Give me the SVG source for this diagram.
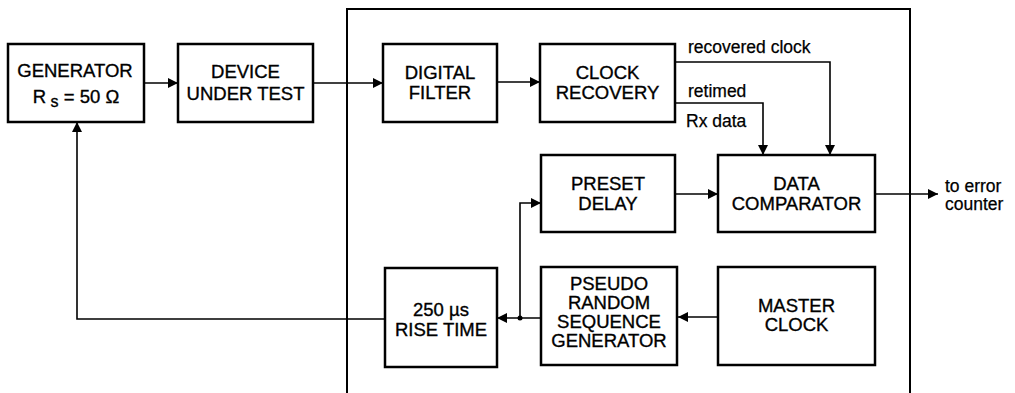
<svg xmlns="http://www.w3.org/2000/svg" width="1015" height="393" viewBox="0 0 1015 393">
<style>
.box{fill:#fff;stroke:#000;stroke-width:2.5}
.t{font-family:"Liberation Sans",Arial,sans-serif;font-size:18.5px;text-anchor:middle;fill:#000;stroke:#000;stroke-width:0.35}
.l{font-family:"Liberation Sans",Arial,sans-serif;font-size:17.5px;fill:#000;stroke:#000;stroke-width:0.25}
.c{fill:none;stroke:#000;stroke-width:1.6}
.frame{fill:none;stroke:#000;stroke-width:2}
</style>
<defs>
<marker id="a" viewBox="0 0 10 10" refX="10" refY="5" markerWidth="10" markerHeight="10" markerUnits="userSpaceOnUse" orient="auto">
<path d="M0,0 L10,5 L0,10 z" fill="#000"/>
</marker>
</defs>
<path class="frame" d="M347,393 V9 H910 V393"/>
<g id="connectors">
<path class="c" d="M144,83 H178" marker-end="url(#a)"/>
<path class="c" d="M313,83 H383" marker-end="url(#a)"/>
<path class="c" d="M497,82 H540" marker-end="url(#a)"/>
<path class="c" d="M675,62 H830 V155" marker-end="url(#a)"/>
<path class="c" d="M675,103 H763 V155" marker-end="url(#a)"/>
<path class="c" d="M675,194 H718" marker-end="url(#a)"/>
<path class="c" d="M875,194 H938" marker-end="url(#a)"/>
<path class="c" d="M718,317 H678" marker-end="url(#a)"/>
<path class="c" d="M541,318 H497" marker-end="url(#a)"/>
<path class="c" d="M520,318 V203 H541" marker-end="url(#a)"/>
<path class="c" d="M385,319 H77 V122" marker-end="url(#a)"/>
<circle cx="520" cy="318" r="2.5" fill="#000"/>
<text class="l" x="688" y="53">recovered clock</text>
<text class="l" x="688" y="97">retimed</text>
<text class="l" x="686" y="127">Rx data</text>
<text class="l" x="945" y="192">to error</text>
<text class="l" x="945" y="210">counter</text>
</g>
<g id="generator">
<rect class="box" x="8" y="44" width="136" height="78"/>
<text class="t" x="75" y="77">GENERATOR</text>
<text class="t" x="76" y="103">R<tspan font-size="16" dy="4"> s</tspan><tspan dy="-4"> = 50 Ω</tspan></text>
</g>
<g id="dut">
<rect class="box" x="178" y="44" width="135" height="78"/>
<text class="t" x="245.5" y="78">DEVICE</text>
<text class="t" x="245.5" y="100">UNDER TEST</text>
</g>
<g id="filter">
<rect class="box" x="383" y="44" width="114" height="78"/>
<text class="t" x="440" y="79">DIGITAL</text>
<text class="t" x="440" y="99">FILTER</text>
</g>
<g id="clockrec">
<rect class="box" x="540" y="44" width="135" height="78"/>
<text class="t" x="607.5" y="79">CLOCK</text>
<text class="t" x="607.5" y="99">RECOVERY</text>
</g>
<g id="preset">
<rect class="box" x="541" y="155" width="134" height="77"/>
<text class="t" x="608" y="190">PRESET</text>
<text class="t" x="608" y="210">DELAY</text>
</g>
<g id="comparator">
<rect class="box" x="718" y="155" width="157" height="77"/>
<text class="t" x="796.5" y="190">DATA</text>
<text class="t" x="796.5" y="210">COMPARATOR</text>
</g>
<g id="risetime">
<rect class="box" x="385" y="268" width="112" height="99"/>
<text class="t" x="441" y="316">250 µs</text>
<text class="t" x="441" y="336">RISE TIME</text>
</g>
<g id="prbs">
<rect class="box" x="541" y="267" width="136" height="98"/>
<text class="t" x="609" y="290">PSEUDO</text>
<text class="t" x="609" y="309">RANDOM</text>
<text class="t" x="609" y="328">SEQUENCE</text>
<text class="t" x="609" y="347">GENERATOR</text>
</g>
<g id="masterclock">
<rect class="box" x="718" y="267" width="157" height="98"/>
<text class="t" x="796.5" y="312">MASTER</text>
<text class="t" x="796.5" y="331">CLOCK</text>
</g>
</svg>
